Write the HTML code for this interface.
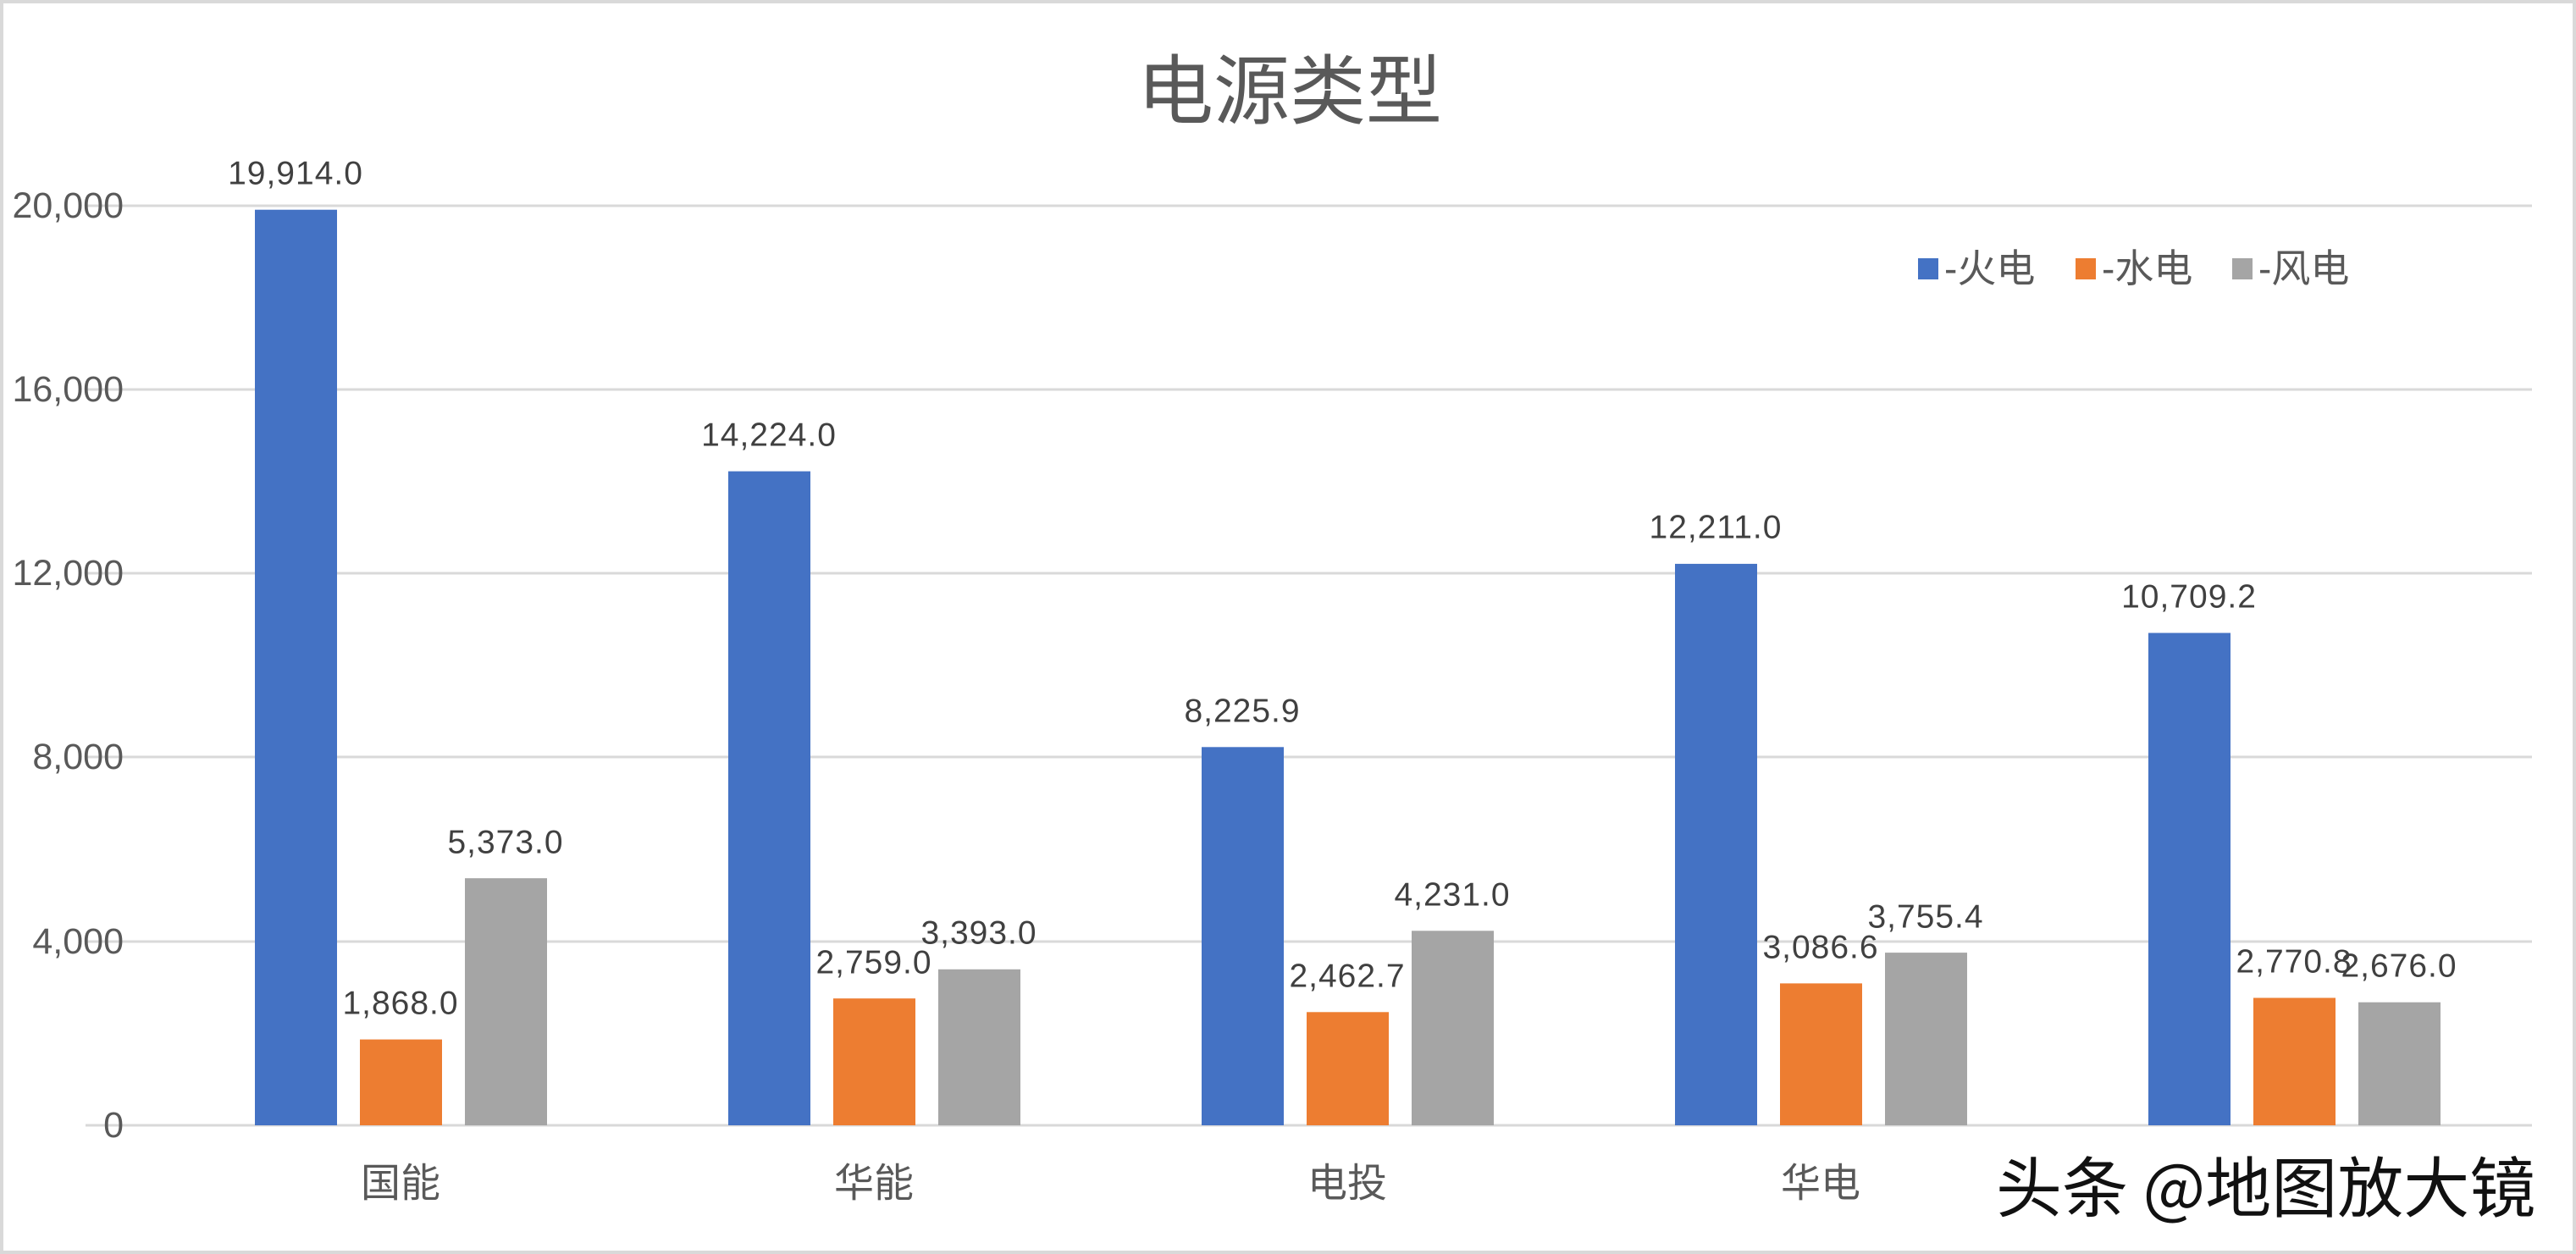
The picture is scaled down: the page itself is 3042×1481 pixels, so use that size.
<!DOCTYPE html>
<html><head><meta charset="utf-8"><style>
html,body{margin:0;padding:0;background:#fff;}
svg{display:block;}
</style></head><body>
<svg width="3042" height="1481" viewBox="0 0 3042 1481" xmlns="http://www.w3.org/2000/svg" font-family="Liberation Sans, Noto Sans CJK SC, sans-serif">
<rect x="2" y="2" width="3038" height="1477" fill="#fff" stroke="#d9d9d9" stroke-width="4"/>
<text x="1523" y="100" font-size="90" fill="#595959" text-anchor="middle" dominant-baseline="central" font-family="Noto Sans CJK SC, sans-serif">电源类型</text>
<g stroke="#d9d9d9" stroke-width="3">
<line x1="101" y1="243" x2="2990" y2="243"/>
<line x1="101" y1="460" x2="2990" y2="460"/>
<line x1="101" y1="677" x2="2990" y2="677"/>
<line x1="101" y1="894" x2="2990" y2="894"/>
<line x1="101" y1="1112" x2="2990" y2="1112"/>
<line x1="101" y1="1329" x2="2990" y2="1329"/>
</g>
<g font-size="43" fill="#595959" text-anchor="end" dominant-baseline="central">
<text x="146" y="243">20,000</text>
<text x="146" y="460">16,000</text>
<text x="146" y="677">12,000</text>
<text x="146" y="894">8,000</text>
<text x="146" y="1112">4,000</text>
<text x="146" y="1329">0</text>
</g>
<rect x="301" y="247.7" width="97" height="1081.3" fill="#4472c4"/>
<rect x="425" y="1227.6" width="97" height="101.4" fill="#ed7d31"/>
<rect x="549" y="1037.2" width="97" height="291.8" fill="#a5a5a5"/>
<rect x="860" y="556.6" width="97" height="772.4" fill="#4472c4"/>
<rect x="984" y="1179.2" width="97" height="149.8" fill="#ed7d31"/>
<rect x="1108" y="1144.8" width="97" height="184.2" fill="#a5a5a5"/>
<rect x="1419" y="882.3" width="97" height="446.7" fill="#4472c4"/>
<rect x="1543" y="1195.3" width="97" height="133.7" fill="#ed7d31"/>
<rect x="1667" y="1099.3" width="97" height="229.7" fill="#a5a5a5"/>
<rect x="1978" y="665.9" width="97" height="663.1" fill="#4472c4"/>
<rect x="2102" y="1161.4" width="97" height="167.6" fill="#ed7d31"/>
<rect x="2226" y="1125.1" width="97" height="203.9" fill="#a5a5a5"/>
<rect x="2537" y="747.5" width="97" height="581.5" fill="#4472c4"/>
<rect x="2661" y="1178.5" width="97" height="150.5" fill="#ed7d31"/>
<rect x="2785" y="1183.7" width="97" height="145.3" fill="#a5a5a5"/>
<g font-size="39" fill="#404040" text-anchor="middle" dominant-baseline="central" letter-spacing="1">
<text x="349" y="205">19,914.0</text>
<text x="473" y="1185">1,868.0</text>
<text x="597" y="995">5,373.0</text>
<text x="908" y="514">14,224.0</text>
<text x="1032" y="1137">2,759.0</text>
<text x="1156" y="1102">3,393.0</text>
<text x="1467" y="840">8,225.9</text>
<text x="1591" y="1153">2,462.7</text>
<text x="1715" y="1057">4,231.0</text>
<text x="2026" y="623">12,211.0</text>
<text x="2150" y="1119">3,086.6</text>
<text x="2274" y="1083">3,755.4</text>
<text x="2585" y="705">10,709.2</text>
<text x="2709" y="1136">2,770.8</text>
<text x="2833" y="1141">2,676.0</text>
</g>
<g font-size="47" fill="#595959" text-anchor="middle" dominant-baseline="central" font-family="Noto Sans CJK SC, sans-serif">
<text x="473" y="1393">国能</text>
<text x="1032" y="1393">华能</text>
<text x="1591" y="1393">电投</text>
<text x="2150" y="1393">华电</text>
</g>
<g font-size="46" fill="#595959" dominant-baseline="central" font-family="Liberation Sans, Noto Sans CJK SC, sans-serif">
<rect x="2265" y="305" width="24" height="25" fill="#4472c4"/>
<text x="2296" y="317">-火电</text>
<rect x="2451" y="305" width="24" height="25" fill="#ed7d31"/>
<text x="2482" y="317">-水电</text>
<rect x="2636" y="305" width="24" height="25" fill="#a5a5a5"/>
<text x="2667" y="317">-风电</text>
</g>
<text x="2357" y="1398" font-size="78" fill="#111" dominant-baseline="central" font-family="Noto Sans CJK SC, sans-serif">头条 @地图放大镜</text>
</svg>
</body></html>
